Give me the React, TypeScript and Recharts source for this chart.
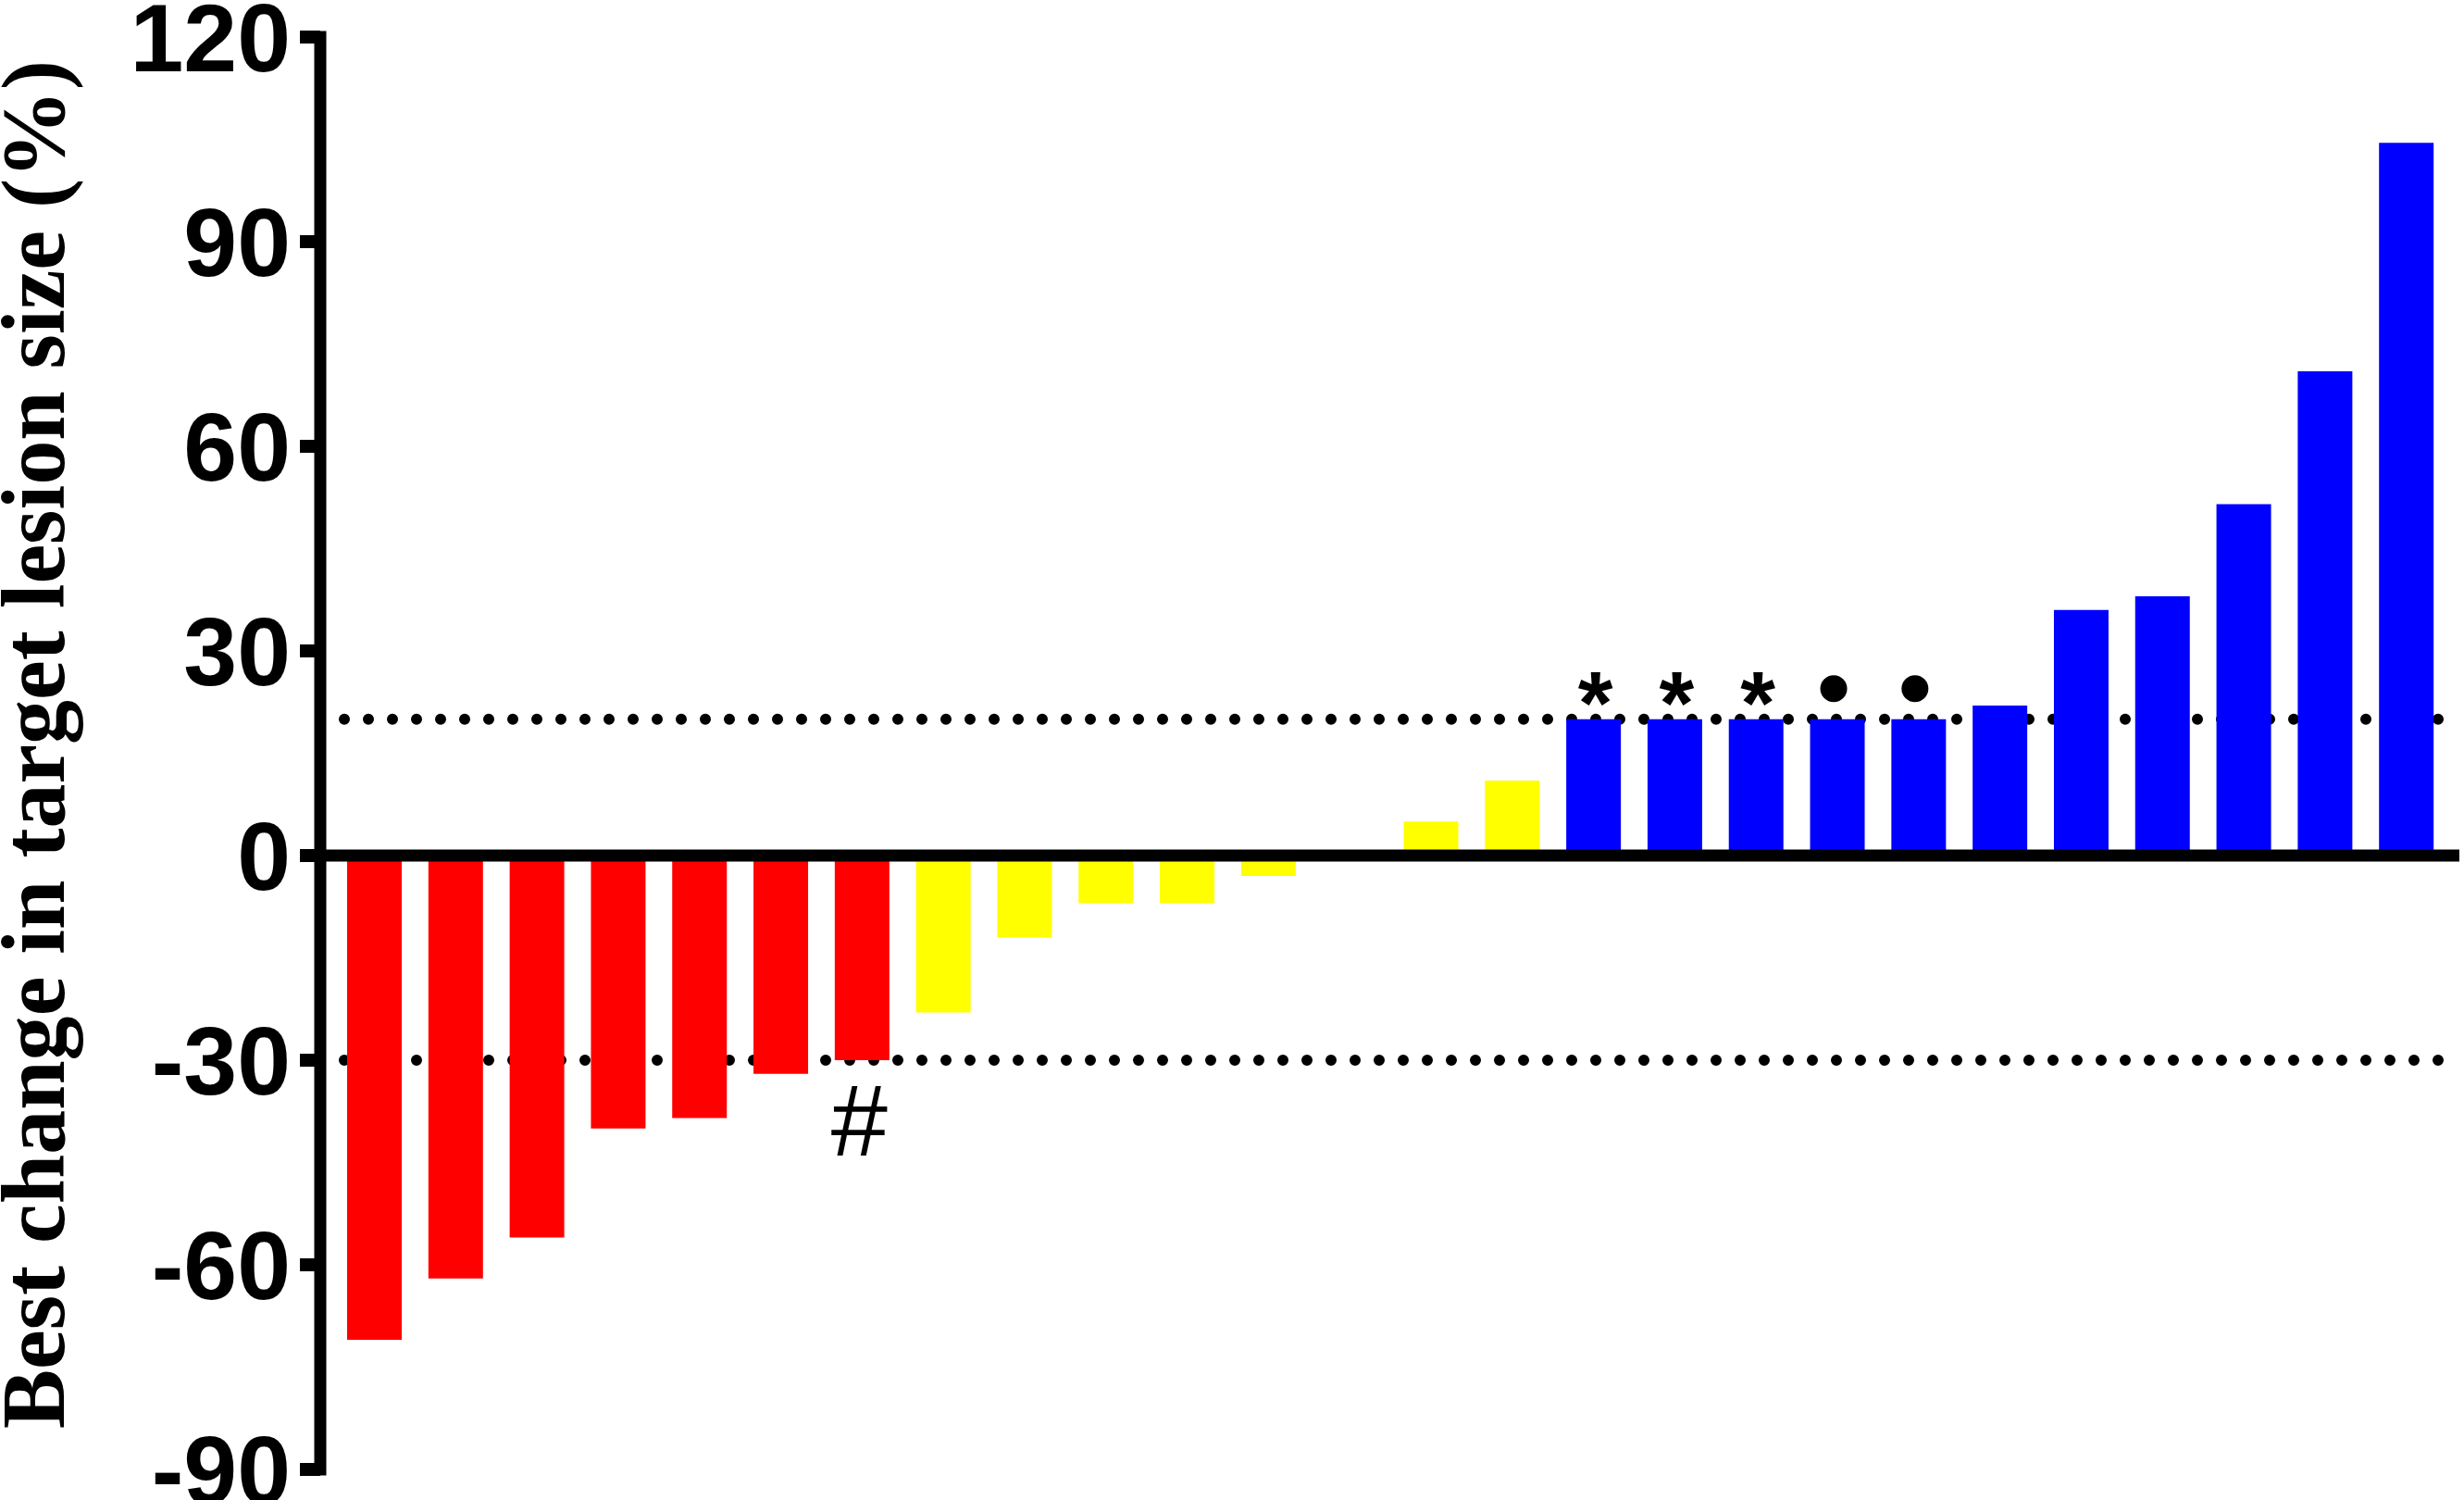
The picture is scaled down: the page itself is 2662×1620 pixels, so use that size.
import React from 'react';
import { BarChart, Bar, XAxis, YAxis, ReferenceLine, Cell, LabelList } from 'recharts';

// Patients sorted by best change in target lesion size
const patients = [
  'P1', 'P2', 'P3', 'P4', 'P5', 'P6', 'P7', 'P8', 'P9', 'P10', 'P11', 'P12', 'P13',
  'P14', 'P15', 'P16', 'P17', 'P18', 'P19', 'P20', 'P21', 'P22', 'P23', 'P24', 'P25', 'P26',
];
const bestChange = [
  -71, -62, -56, -40, -38.5, -32, -30, -23, -12, -7, -7, -3, 0.3,
  5, 11, 20, 20, 20, 20, 20, 22, 36, 38, 51.5, 71, 104.5,
];
const responseGroup = [
  'PR', 'PR', 'PR', 'PR', 'PR', 'PR', 'PR', 'SD', 'SD', 'SD', 'SD', 'SD', 'SD',
  'SD', 'SD', 'PD', 'PD', 'PD', 'PD', 'PD', 'PD', 'PD', 'PD', 'PD', 'PD', 'PD',
];
const marks = [
  '', '', '', '', '', '', '#', '', '', '', '', '', '',
  '', '', '*', '*', '*', '●', '●', '', '', '', '', '', '',
];
const yTicks = [-90, -60, -30, 0, 30, 60, 90, 120];
const thresholds = [20, -30];

const groupColors: Record<string, string> = { PR: '#FF0000', SD: '#FFFF00', PD: '#0000FF' };

const data = patients.map((id, i) => ({ id, change: bestChange[i], group: responseGroup[i], mark: marks[i] }));

const YTick = ({ x, y, payload }: any) => (
  <text
    x={x - 8}
    y={y + 37}
    textAnchor="end"
    fontFamily="'Liberation Sans', Arial, sans-serif"
    fontWeight="bold"
    fontSize={104}
    fill="#000"
  >
    {payload.value}
  </text>
);

const MarkLabel = (props: any) => {
  const { x, y, width, height, index } = props;
  const mark = marks[index];
  if (!mark) return null;
  const cx = x + width / 2;
  const top = Math.min(y, y + height);
  const bottom = Math.max(y, y + height);
  if (mark === '#') {
    return (
      <text x={cx - 3} y={bottom + 103} textAnchor="middle" fontFamily="'Liberation Sans', Arial, sans-serif" fontSize={110} fill="#000">
        #
      </text>
    );
  }
  if (mark === '*') {
    return (
      <text x={cx + 2} y={top + 16} textAnchor="middle" fontFamily="'Liberation Sans', Arial, sans-serif" fontWeight="bold" fontSize={97} fill="#000">
        *
      </text>
    );
  }
  return <circle cx={cx - 4} cy={top - 33} r={14.5} fill="#000" />;
};

export default function App() {
  return (
    <div style={{ position: 'absolute', left: 0, top: 0, background: '#fff' }}>
      <BarChart
        width={2662}
        height={1620}
        data={data}
        margin={{ top: 40, right: 5, bottom: 33, left: 0 }}
        barSize={59}
      >
        <XAxis dataKey="id" hide height={0} padding={{ left: 15, right: 13 }} />
        <YAxis
          width={346}
          domain={[-90, 120]}
          ticks={yTicks}
          interval={0}
          tick={<YTick />}
          tickSize={22}
          axisLine={{ stroke: '#000', strokeWidth: 13, strokeLinecap: 'square' }}
          tickLine={{ stroke: '#000', strokeWidth: 14 }}
          allowDataOverflow
        />
        {thresholds.map((t) => (
          <ReferenceLine
            key={t}
            y={t}
            stroke="#000"
            strokeWidth={12}
            strokeDasharray="0 26"
            strokeLinecap="round"
            zIndex={250}
          />
        ))}
        <Bar dataKey="change" isAnimationActive={false}>
          {data.map((d) => (
            <Cell key={d.id} fill={groupColors[d.group]} />
          ))}
          <LabelList dataKey="mark" content={<MarkLabel />} />
        </Bar>
        <ReferenceLine y={0} stroke="#000" strokeWidth={13} zIndex={1000} />
        <text
          x={69}
          y={804}
          transform="rotate(-90 69 804)"
          textAnchor="middle"
          fontFamily="'Liberation Serif', 'Times New Roman', serif"
          fontWeight="bold"
          fontSize={98}
          textLength={1478}
          lengthAdjust="spacingAndGlyphs"
          fill="#000"
        >
          Best change in target lesion size (%)
        </text>
      </BarChart>
    </div>
  );
}
